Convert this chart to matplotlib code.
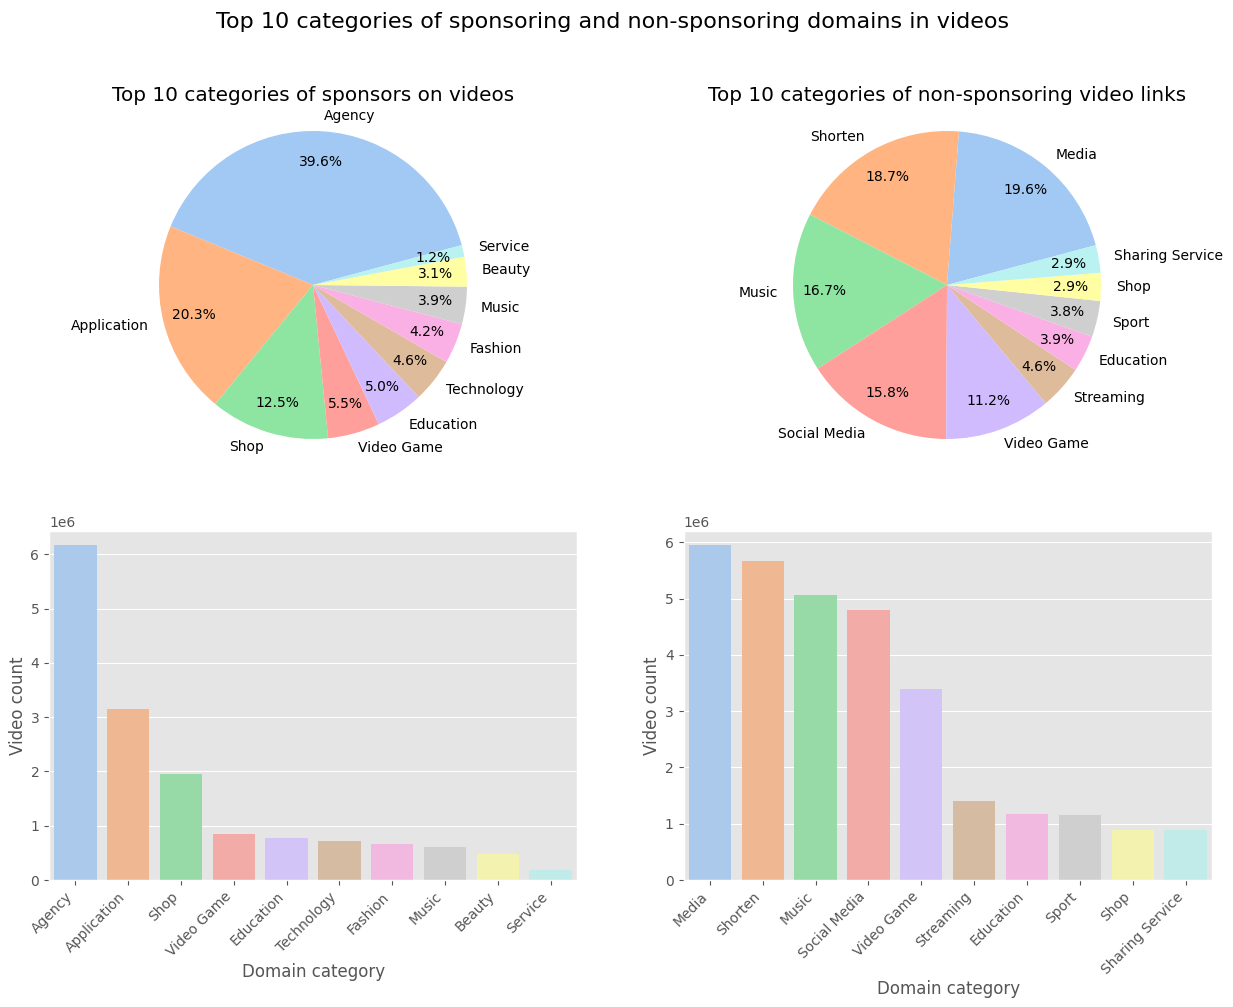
import matplotlib
matplotlib.use('Agg')
import matplotlib.pyplot as plt
import seaborn as sns

plt.style.use('ggplot')

sp_cats = ['Agency','Application','Shop','Video Game','Education','Technology','Fashion','Music','Beauty','Service']
sp_vals = [6165000,3155000,1945000,850000,780000,720000,660000,610000,485000,190000]
ns_cats = ['Media','Shorten','Music','Social Media','Video Game','Streaming','Education','Sport','Shop','Sharing Service']
ns_vals = [5950000,5670000,5070000,4790000,3390000,1400000,1170000,1150000,890000,880000]

colors = sns.color_palette('pastel', 10)

W, H = 1233, 1007
fig, axes = plt.subplots(2, 2, figsize=(W/100, H/100), dpi=100)
fig.suptitle('Top 10 categories of sponsoring and non-sponsoring domains in videos',
             fontsize=16, x=612.5/W, y=1-22/H, va='center')

def place(ax, left, right, top, bottom):
    ax.set_position([left/W, 1-bottom/H, (right-left)/W, (bottom-top)/H])

place(axes[0,0], 49, 577, 92.5, 477.5)
place(axes[0,1], 683, 1211, 92.5, 477.5)
place(axes[1,0], 49, 577, 531, 880)
place(axes[1,1], 683.5, 1212, 531, 880)

def pie(ax, vals, cats, title, start):
    ax.pie(vals, labels=cats, autopct='%1.1f%%', colors=colors, pctdistance=0.8,
           startangle=start, textprops={'color': 'black', 'fontsize': 10})
    ax.set_title(title, fontsize=14.4, color='black', y=0.956)

pie(axes[0,0], sp_vals, sp_cats, 'Top 10 categories of sponsors on videos', 15)
pie(axes[0,1], ns_vals, ns_cats, 'Top 10 categories of non-sponsoring video links', 15)

def bar(ax, vals, cats, ytop):
    sns.barplot(x=cats, y=vals, hue=cats, palette=colors, legend=False, ax=ax)
    ax.set_xlabel('Domain category', x=0.502, labelpad=2.56)
    ax.set_ylabel('Video count', labelpad=2.56)
    ax.set_xticks(range(len(cats)))
    ax.set_xticklabels(cats, rotation=45, ha='right')
    ax.set_ylim(0, ytop)
    ax.grid(axis='x', visible=False)

bar(axes[1,0], sp_vals, sp_cats, 6.43e6)
bar(axes[1,1], ns_vals, ns_cats, 6.2e6)

fig.savefig('out.png', dpi=100)
